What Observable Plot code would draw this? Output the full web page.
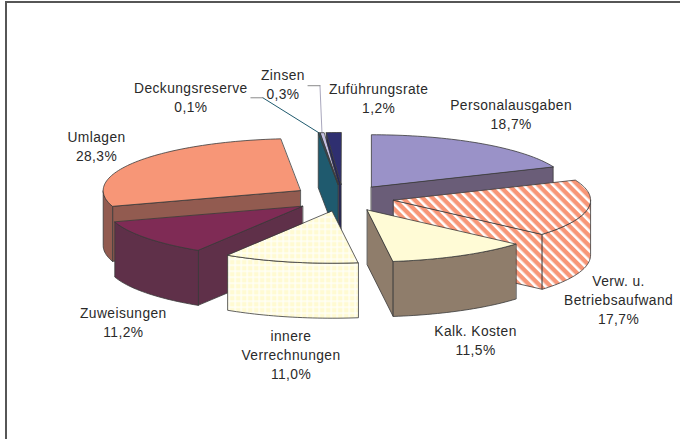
<!DOCTYPE html>
<html lang="de">
<head>
<meta charset="utf-8">
<script src="https://cdn.jsdelivr.net/npm/d3@7"></script>
<script src="https://cdn.jsdelivr.net/npm/@observablehq/plot@0.6"></script>
<style>
html,body{margin:0;padding:0;background:#fff;overflow:hidden}
#chart{position:relative;width:680px;height:439px}
#chart svg{display:block;position:absolute;left:0;top:0;background:transparent}
#chart text{letter-spacing:.42px}
#border{position:absolute;left:5px;top:1px;right:0;bottom:0;border-left:2px solid #565656;border-top:2px solid #565656}
</style>
</head>
<body>
<div id="chart"><div id="border"></div></div>
<script>
// Data, clockwise from 12 o'clock
const names = ["Personalausgaben","Verw. u.\nBetriebsaufwand","Kalk. Kosten","innere\nVerrechnungen","Zuweisungen","Umlagen","Deckungsreserve","Zinsen","Zuführungsrate"];
const shares = [18.7,17.7,11.5,11.0,11.2,28.3,0.1,0.3,1.2];
const percentText = ["18,7%","17,7%","11,5%","11,0%","11,2%","28,3%","0,1%","0,3%","1,2%"];
const topColors = ["#9A92C8","url(#hatch)","#FFFBD6","url(#grid)","#7F2B55","#F79677","#1F5A6E","#C4C0E2","#2F2F70"];
const wallColors = ["#6A5D78","url(#hatch)","#8F7D6B","url(#grid)","#5F3049","#925B50","#1F5A6E","#8F8DB0","#25255A"];
const paintOrder = [8,7,6,0,5,1,4,2,3];
// Label offset from the slice rim, in pixels
const labelDx = [30.5,30.5,15,0.6,-23.5,-39,-128,-39,45];
const labelDy = [-30,90,83.3,92,83.3,-16.5,-36.3,-49.5,-35.5];

// Layout of the tilted pie
const cx = 342.5, cy = 197.5, rx = 197, ry = 52, explode = 0.26, thick = 55 / ry;
const rad = d => d * Math.PI / 180;
const total = d3.sum(shares);
let acc = 0;
const slices = shares.map((v, i) => {
  const a0 = acc / total * 360; acc += v; const a1 = acc / total * 360;
  const mid = (a0 + a1) / 2;
  return {i, a0, a1, mid, ax: explode * Math.sin(rad(mid)), ay: explode * Math.cos(rad(mid))};
});
const rim = (s, a, down = 0) => ({x: s.ax + Math.sin(rad(a)), y: s.ay + Math.cos(rad(a)) - down});
const apex = (s, down = 0) => ({x: s.ax, y: s.ay - down});
const shift = (p, dx, dy) => ({x: p.x + dx / rx, y: p.y - dy / ry});
const arcPts = (s, a0, a1, down = 0) => {
  const n = Math.max(2, Math.ceil((a1 - a0) / 1.5) + 1);
  return d3.range(n).map(k => rim(s, a0 + (a1 - a0) * k / (n - 1), down));
};
const poly = (pts, fill, stroke = "#3a3a3a", strokeWidth = 0.8) =>
  Plot.line(pts, {x: "x", y: "y", fill, stroke, strokeWidth, curve: "linear-closed", strokeLinejoin: "round"});

const faces = [];
for (const k of paintOrder) {
  const s = slices[k], wall = wallColors[k];
  if (Math.sin(rad(s.a0)) < -1e-6)
    faces.push(poly([apex(s), rim(s, s.a0), rim(s, s.a0, thick), apex(s, thick)], wall));
  if (Math.sin(rad(s.a1)) > 1e-6)
    faces.push(poly([apex(s), rim(s, s.a1), rim(s, s.a1, thick), apex(s, thick)], wall));
  const lo = Math.max(s.a0, 90), hi = Math.min(s.a1, 270);
  if (hi > lo)
    faces.push(poly([...arcPts(s, lo, hi), ...arcPts(s, lo, hi, thick).reverse()], wall));
  faces.push(poly([apex(s), ...arcPts(s, s.a0, s.a1)], topColors[k]));
}

// Leader lines for the two narrow slices
const deck = slices[6], zins = slices[7];
const deckRim = rim(deck, deck.mid), zinsRim = rim(zins, zins.mid);
const leader = (pts, stroke) => Plot.line(pts, {x: "x", y: "y", stroke, strokeWidth: 1});
const leaders = [
  leader([deckRim, shift(deckRim, -56, -35)], "#1F5A6E"),
  leader([shift(deckRim, -56, -35), shift(deckRim, -68, -35)], "#8a8a8a"),
  leader([zinsRim, shift(zinsRim, -2, -47)], "#a9a7bd"),
  leader([shift(zinsRim, -2, -47), shift(zinsRim, -14, -47)], "#8a8a8a")
];

const labels = slices.map(s => {
  const rp = rim(s, s.mid);
  return {...shift(rp, labelDx[s.i], labelDy[s.i]), text: names[s.i] + "\n" + percentText[s.i]};
});

const defs = () => {
  const svg = d3.create("svg:g");
  const d = svg.append("defs");
  const h = d.append("pattern").attr("id", "hatch").attr("patternUnits", "userSpaceOnUse")
    .attr("width", 7).attr("height", 7).attr("patternTransform", "rotate(-45)");
  h.append("rect").attr("width", 7).attr("height", 7).attr("fill", "#F79677");
  h.append("rect").attr("width", 2.6).attr("height", 7).attr("fill", "#fff");
  const g = d.append("pattern").attr("id", "grid").attr("patternUnits", "userSpaceOnUse")
    .attr("width", 6).attr("height", 6);
  g.append("rect").attr("width", 6).attr("height", 6).attr("fill", "#FFFAD2");
  g.append("rect").attr("width", 1.3).attr("height", 6).attr("fill", "#FFFFFA");
  g.append("rect").attr("width", 6).attr("height", 1.3).attr("fill", "#FFFFFA");
  return svg.node();
};

const chart = Plot.plot({
  width: 680,
  height: 439,
  margin: 0,
  style: {background: "transparent", overflow: "visible"},
  x: {domain: [-1, 1], range: [cx - rx, cx + rx], axis: null},
  y: {domain: [1, -1], range: [cy - ry, cy + ry], axis: null},
  marks: [
    defs,
    ...leaders,
    ...faces,
    Plot.text(labels, {
      x: "x", y: "y", text: "text", textAnchor: "middle", lineAnchor: "middle",
      fontFamily: "Liberation Sans, Arial, sans-serif", fontSize: 13.8, lineHeight: 1.377, fill: "#2a2a2a"
    })
  ]
});
document.getElementById("chart").appendChild(chart);
</script>
</body>
</html>
